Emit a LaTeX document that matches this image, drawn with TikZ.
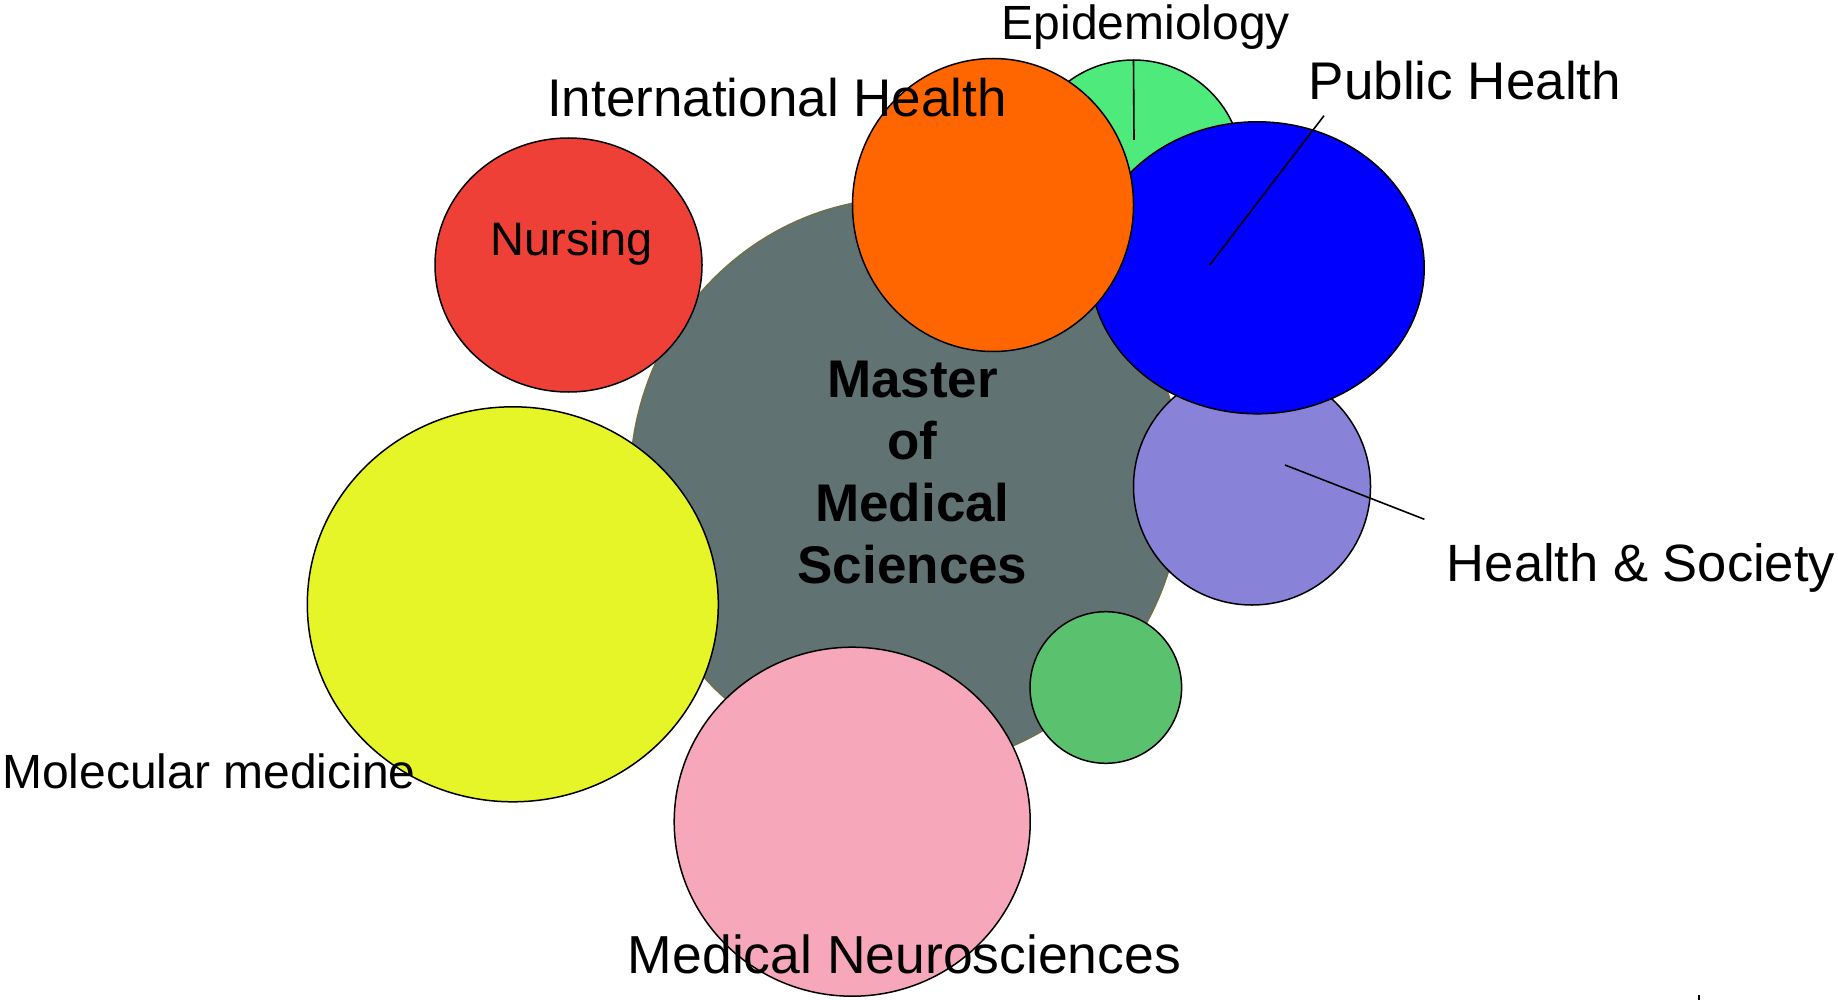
\documentclass[tikz,border=0pt]{standalone}
\usepackage{fontspec}
\setmainfont{Liberation Sans}
\usetikzlibrary{shapes.geometric}
\definecolor{mgray}{RGB}{96,114,114}
\definecolor{molive}{RGB}{112,112,72}
\definecolor{mred}{RGB}{238,64,54}
\definecolor{myellow}{RGB}{229,245,39}
\definecolor{mpink}{RGB}{247,167,186}
\definecolor{msgreen}{RGB}{90,194,110}
\definecolor{mepi}{RGB}{78,234,124}
\definecolor{mpurple}{RGB}{136,131,217}
\definecolor{mblue}{RGB}{0,0,255}
\definecolor{morange}{RGB}{255,102,0}
\begin{document}
\begin{tikzpicture}[x=1pt,y=-1pt,
  blob/.style={ellipse,draw=black,line width=1.5pt,inner sep=0pt,outer sep=0pt},
  lbl/.style={anchor=base,inner sep=0pt,outer sep=0pt},
  lead/.style={line width=1.6pt,draw=black}]
\useasboundingbox[fill=white] (0,0) rectangle (1838,1000);
% circles
\node[blob,draw=molive,fill=mgray,minimum width=552pt,minimum height=570pt] (mms) at (906,483) {};
\node[blob,fill=mred,minimum width=267pt,minimum height=254pt] (nurs) at (568.5,265) {};
\node[blob,fill=myellow,minimum width=411pt,minimum height=395pt] (mol) at (512.8,604.3) {};
\node[blob,fill=mpink,minimum width=356pt,minimum height=349pt] (neuro) at (852.2,821.7) {};
\node[blob,fill=msgreen,minimum width=151.6pt,minimum height=151.6pt] (sgreen) at (1105.8,687.5) {};
\node[blob,fill=mepi,minimum width=218pt,minimum height=218pt] (epi) at (1133.5,169) {};
\node[blob,fill=mpurple,minimum width=237pt,minimum height=237pt] (hs) at (1252,486.5) {};
\node[blob,fill=mblue,minimum width=334pt,minimum height=292pt] (ph) at (1257.2,267.8) {};
\node[blob,fill=morange,minimum width=281pt,minimum height=293pt] (ih) at (993,205) {};
% centre text
\node[lbl,font=\fontsize{53}{63}\selectfont\bfseries] (t1) at (912.5,397) {Master};
\node[lbl,font=\fontsize{53}{63}\selectfont\bfseries] (t2) at (912.5,459) {of};
\node[lbl,font=\fontsize{53}{63}\selectfont\bfseries] (t3) at (912.5,521) {Medical};
\node[lbl,font=\fontsize{53}{63}\selectfont\bfseries] (t4) at (912.5,583) {Sciences};
% labels
\node[lbl,font=\fontsize{48}{57}\selectfont] (lepi) at (1145.8,40) {Epidemiology};
\node[lbl,font=\fontsize{53}{63}\selectfont] (lih) at (777,116.7) {International Health};
\node[lbl,font=\fontsize{53}{63}\selectfont] (lph) at (1465,100) {Public Health};
\node[lbl,font=\fontsize{47}{56}\selectfont] (lnurs) at (571.7,256) {Nursing};
\node[lbl,font=\fontsize{52.5}{62}\selectfont] (lhs) at (1641,581.7) {Health \& Society};
\node[lbl,font=\fontsize{48}{57}\selectfont] (lmol) at (209,788.3) {Molecular medicine};
\node[lbl,font=\fontsize{53.5}{64}\selectfont] (lneuro) at (904.5,973.3) {Medical Neurosciences};
% leader lines
\coordinate (epiend) at (1134,140);
\draw[lead] (epi.north) -- (epiend);
\coordinate (ph1) at (1324,115.7);
\coordinate (ph2) at (1209.7,265);
\draw[lead] (ph1) -- (ph2);
\coordinate (hs1) at (1285,465);
\coordinate (hs2) at (1424.4,519.3);
\draw[lead] (hs1) -- (hs2);
\coordinate (tk1) at (1699,995);
\coordinate (tk2) at (1699,1000);
\draw[lead] (tk1) -- (tk2);
\end{tikzpicture}
\end{document}
